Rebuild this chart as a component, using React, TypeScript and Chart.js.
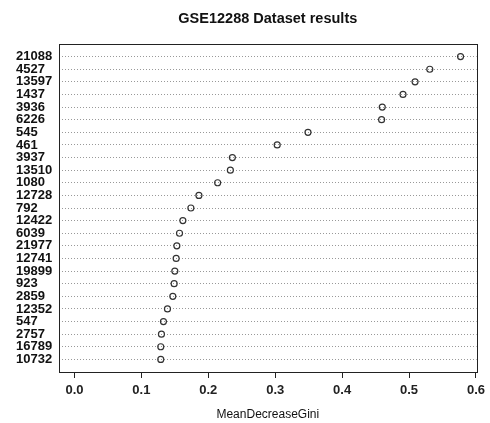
import React, { useEffect, useRef } from "react";
import { Chart, registerables } from "chart.js";

Chart.register(...registerables);

const TITLE = "GSE12288 Dataset results";
const X_TITLE = "MeanDecreaseGini";
const GENES: string[] = [
  "21088", "4527", "13597", "1437", "3936", "6226", "545", "461",
  "3937", "13510", "1080", "12728", "792", "12422", "6039", "21977",
  "12741", "19899", "923", "2859", "12352", "547", "2757", "16789", "10732",
];
const GINI: number[] = [
  0.577, 0.531, 0.509, 0.491, 0.46, 0.459, 0.349, 0.303,
  0.236, 0.233, 0.214, 0.186, 0.174, 0.162, 0.157, 0.153,
  0.152, 0.15, 0.149, 0.147, 0.139, 0.133, 0.13, 0.129, 0.129,
];
const X_TICKS: number[] = [0, 0.1, 0.2, 0.3, 0.4, 0.5, 0.6];

export default function App() {
  const ref = useRef<HTMLCanvasElement | null>(null);

  useEffect(() => {
    document.body.style.margin = "0";
    const canvas = ref.current;
    if (!canvas) return;
    const n = GENES.length;
    const points = GENES.map((g, i) => ({ x: GINI[i], y: n - i }));

    const frame = {
      id: "frame",
      afterDatasetsDraw(chart: any) {
        const { ctx, chartArea: a } = chart;
        ctx.save();
        ctx.strokeStyle = "#222";
        ctx.lineWidth = 1;
        ctx.strokeRect(Math.round(a.left) + 0.5, Math.round(a.top) + 0.5, Math.round(a.right - a.left), Math.round(a.bottom - a.top));
        ctx.restore();
      },
    };

    const chart = new Chart(canvas, {
      type: "scatter",
      data: {
        datasets: [
          {
            data: points,
            pointStyle: "circle",
            pointRadius: 3,
            pointBorderWidth: 1.2,
            pointBorderColor: "#333",
            pointBackgroundColor: "rgba(0,0,0,0)",
            showLine: false,
          },
        ],
      },
      plugins: [frame],
      options: {
        responsive: false,
        animation: false,
        layout: { padding: { left: 16, right: 11, top: 0, bottom: 1 } },
        plugins: {
          legend: { display: false },
          tooltip: { enabled: false },
          title: {
            display: true,
            fullSize: false,
            text: TITLE,
            color: "#111",
            font: { family: "Liberation Sans", size: 14.5, weight: "bold" },
            padding: { top: 10, bottom: 16.6 },
          },
        },
        scales: {
          x: {
            type: "linear",
            min: -0.0231,
            max: 0.601,
            afterBuildTicks(scale: any) {
              scale.ticks = X_TICKS.map((v) => ({ value: v }));
            },
            afterFit(scale: any) {
              scale.height = 50;
            },
            ticks: {
              color: "#222",
              font: { family: "Liberation Sans", size: 13, weight: "bold" },
              padding: 5,
              callback: (v: any) => Number(v).toFixed(1),
              maxRotation: 0,
              autoSkip: false,
            },
            grid: { drawOnChartArea: false, tickLength: 6, color: "#222", tickColor: "#222" },
            border: { display: false },
            title: {
              display: true,
              text: X_TITLE,
              color: "#111",
              font: { family: "Liberation Sans", size: 12 },
              padding: { top: 8, bottom: 0 },
            },
          },
          y: {
            type: "linear",
            min: 0,
            max: n + 1,
            afterBuildTicks(scale: any) {
              const t = [];
              for (let v = 0; v <= n + 1; v++) t.push({ value: v });
              scale.ticks = t;
            },
            afterFit(scale: any) {
              scale.width = 43;
            },
            ticks: {
              color: "#111",
              font: { family: "Liberation Sans", size: 13, weight: "bold" },
              crossAlign: "far",
              padding: 4,
              autoSkip: false,
              callback: (v: any) => {
                const k = Math.round(Number(v));
                if (k < 1 || k > n) return "";
                return GENES[n - k];
              },
            },
            grid: {
              drawTicks: false,
              color: (c: any) => {
                const v = c.tick ? c.tick.value : -1;
                return v >= 1 && v <= n ? "#999" : "rgba(0,0,0,0)";
              },
              lineWidth: 1,
            },
            border: { display: false, dash: [1, 2] },
          },
        },
      },
    });
    return () => chart.destroy();
  }, []);

  return <canvas ref={ref} width={490} height={423} style={{ display: "block" }} />;
}
